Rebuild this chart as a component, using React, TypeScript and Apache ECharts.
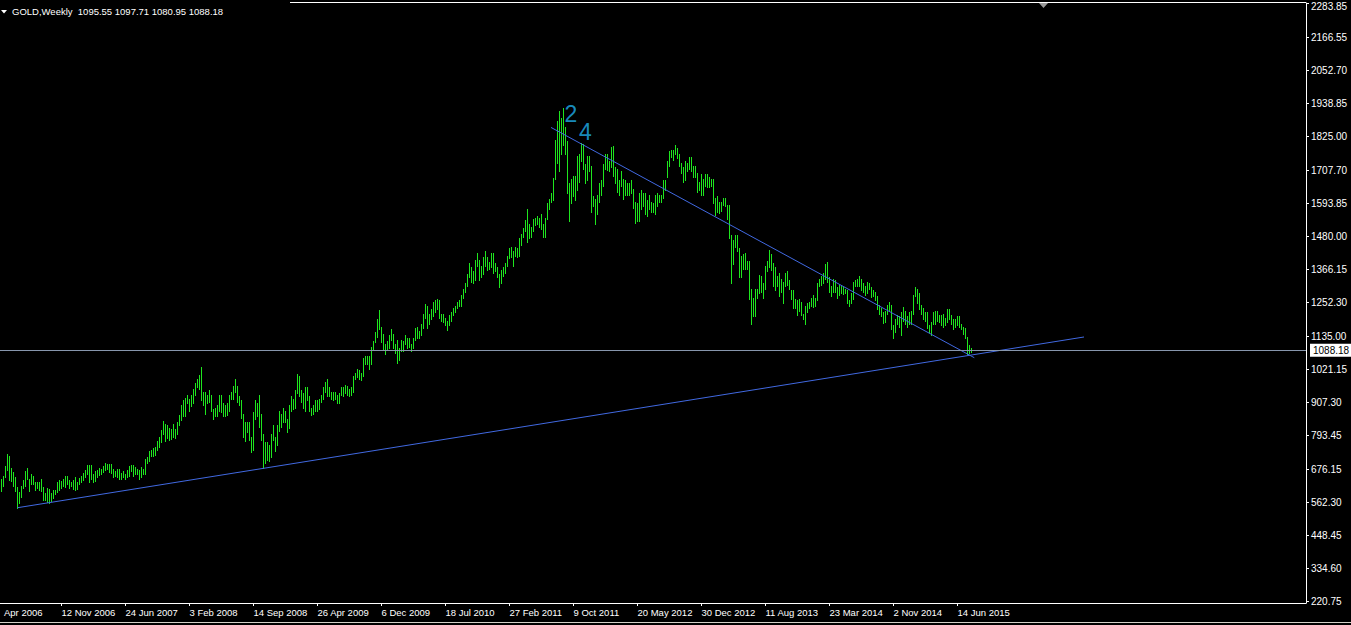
import React, { useEffect, useRef } from "react";
import * as echarts from "echarts";

// ---- chart identity ----
const SYMBOL = "GOLD";
const PERIOD = "Weekly";
const LAST_BAR = { open: 1095.55, high: 1097.71, low: 1080.95, close: 1088.18 };
const FIRST_WEEK = "2006-04-16"; // week index 0

// ---- weekly highs (week index 0 = 16 Apr 2006, last = 2 Aug 2015) ----
const weeklyHigh = [
  // 2006 (from 16 Apr)
  645, 655, 688, 730, 725, 681, 667, 650, 617, 600, 620, 640, 670, 681, 643, 660, 656, 635, 635, 633,
  643, 617, 596, 613, 611, 596, 606, 606, 633, 640, 637, 643, 653, 653, 640, 635, 640, 650,
  // 2007
  633, 647, 656, 665, 674, 691, 691, 691, 660, 670, 674, 681, 678, 688, 699, 697, 697, 695, 678, 670,
  678, 678, 665, 670, 663, 674, 688, 691, 691, 684, 678, 674, 684, 678, 712, 721, 740, 745, 751, 755,
  775, 790, 812, 845, 835, 830, 820, 815, 835, 815, 840, 865,
  // 2008
  898, 915, 925, 935, 920, 935, 955, 975, 990, 1002, 1032, 945, 945, 935, 950, 935, 885, 890, 900, 935,
  935, 905, 900, 905, 935, 945, 965, 988, 965, 930, 915, 870, 840, 840, 840, 790, 875, 915, 905, 935,
  870, 800, 770, 770, 760, 800, 830, 790, 830, 880, 870, 890,
  // 2009
  880, 850, 900, 930, 920, 950, 1007, 1000, 950, 940, 960, 960, 930, 890, 900, 915, 915, 920, 935, 960,
  980, 990, 960, 945, 945, 945, 935, 940, 960, 960, 970, 965, 955, 960, 1000, 1010, 1025, 1020, 1010, 1060,
  1070, 1070, 1070, 1100, 1120, 1150, 1195, 1226, 1170, 1145, 1110, 1120,
  // 2010
  1140, 1162, 1145, 1110, 1125, 1095, 1125, 1120, 1140, 1130, 1130, 1110, 1130, 1165, 1170, 1155, 1180, 1215, 1249, 1240,
  1215, 1230, 1255, 1262, 1265, 1262, 1215, 1215, 1200, 1190, 1210, 1220, 1235, 1240, 1255, 1260, 1280, 1300, 1320, 1350,
  1388, 1375, 1360, 1398, 1424, 1400, 1380, 1410, 1432, 1410, 1392, 1425,
  // 2011
  1425, 1390, 1375, 1350, 1365, 1375, 1390, 1415, 1440, 1445, 1430, 1445, 1440, 1475, 1490, 1510, 1537, 1575, 1525, 1515,
  1540, 1545, 1550, 1545, 1560, 1525, 1545, 1595, 1610, 1630, 1682, 1815, 1880, 1913, 1890, 1923, 1860, 1810, 1665, 1680,
  1690, 1690, 1760, 1765, 1803, 1800, 1730, 1760, 1760, 1725, 1620, 1610,
  // 2012
  1625, 1665, 1675, 1730, 1764, 1765, 1740, 1790, 1792, 1720, 1715, 1675, 1705, 1680, 1675, 1665, 1665, 1675, 1645, 1600,
  1595, 1630, 1640, 1630, 1630, 1605, 1625, 1600, 1595, 1625, 1630, 1625, 1625, 1675, 1675, 1740, 1775, 1780, 1780, 1796,
  1785, 1765, 1735, 1720, 1740, 1735, 1755, 1755, 1725, 1725, 1700, 1670,
  // 2013 (from 30 Dec 2012)
  1695, 1680, 1695, 1695, 1685, 1680, 1680, 1615, 1620, 1600, 1600, 1615, 1615, 1590, 1590, 1485, 1470, 1487, 1485, 1440,
  1415, 1420, 1425, 1395, 1395, 1300, 1270, 1300, 1300, 1348, 1345, 1320, 1380, 1395, 1433, 1420, 1390, 1375, 1345, 1355,
  1335, 1325, 1355, 1362, 1330, 1295, 1295, 1265, 1260, 1265, 1255, 1215, 1240,
  // 2014
  1250, 1255, 1270, 1280, 1270, 1320, 1335, 1345, 1355, 1385, 1392, 1340, 1310, 1335, 1330, 1305, 1315, 1315, 1305, 1300,
  1295, 1260, 1285, 1325, 1330, 1335, 1345, 1335, 1320, 1310, 1325, 1320, 1305, 1295, 1290, 1275, 1245, 1235, 1220, 1225,
  1245, 1255, 1245, 1175, 1195, 1210, 1205, 1220, 1238, 1225, 1205, 1220,
  // 2015
  1225, 1280, 1307, 1300, 1285, 1245, 1235, 1220, 1220, 1175, 1185, 1220, 1225, 1225, 1210, 1210, 1215, 1200, 1230, 1232,
  1210, 1195, 1195, 1205, 1205, 1180, 1170, 1165, 1135, 1105, 1097.71,
];

// ---- weekly lows ----
const weeklyLow = [
  // 2006
  603, 621, 652, 675, 640, 638, 620, 604, 543, 561, 582, 612, 620, 643, 604, 628, 628, 607, 614, 607,
  604, 572, 572, 565, 560, 569, 577, 592, 599, 606, 614, 620, 617, 626, 614, 621, 611, 606,
  // 2007
  610, 626, 633, 640, 650, 660, 633, 643, 633, 638, 652, 658, 660, 669, 674, 680, 669, 665, 651, 656,
  650, 643, 643, 651, 643, 650, 656, 671, 656, 660, 663, 643, 650, 660, 663, 700, 705, 722, 725, 728,
  745, 755, 770, 800, 775, 785, 777, 783, 790, 785, 800, 832,
  // 2008
  848, 860, 860, 905, 880, 895, 905, 935, 960, 955, 915, 900, 870, 905, 910, 880, 850, 860, 860, 880,
  875, 860, 860, 865, 880, 920, 920, 945, 910, 900, 855, 790, 775, 805, 780, 736, 745, 850, 860, 825,
  780, 681, 700, 710, 705, 720, 780, 740, 760, 810, 825, 840,
  // 2009
  840, 805, 820, 880, 885, 890, 940, 930, 910, 890, 880, 915, 880, 865, 870, 880, 880, 885, 910, 920,
  945, 930, 930, 920, 915, 920, 905, 905, 935, 930, 940, 935, 930, 935, 945, 990, 995, 990, 985, 1000,
  1040, 1040, 1025, 1040, 1090, 1115, 1135, 1160, 1118, 1090, 1075, 1090,
  // 2010
  1095, 1125, 1095, 1080, 1045, 1055, 1085, 1085, 1110, 1095, 1100, 1085, 1095, 1125, 1132, 1130, 1140, 1165, 1200, 1165,
  1180, 1195, 1205, 1220, 1230, 1200, 1190, 1185, 1175, 1157, 1175, 1190, 1210, 1220, 1235, 1240, 1240, 1270, 1290, 1310,
  1340, 1325, 1320, 1330, 1380, 1330, 1340, 1350, 1380, 1365, 1368, 1375,
  // 2011
  1355, 1360, 1340, 1308, 1320, 1345, 1355, 1380, 1405, 1410, 1380, 1415, 1410, 1415, 1450, 1480, 1500, 1462, 1475, 1480,
  1500, 1520, 1525, 1515, 1505, 1478, 1480, 1540, 1575, 1600, 1605, 1680, 1735, 1705, 1765, 1795, 1765, 1630, 1535, 1595,
  1620, 1605, 1640, 1670, 1740, 1715, 1665, 1675, 1705, 1565, 1585, 1523,
  // 2012
  1560, 1600, 1625, 1655, 1715, 1710, 1705, 1720, 1690, 1665, 1635, 1625, 1655, 1610, 1625, 1625, 1625, 1630, 1580, 1527,
  1535, 1533, 1575, 1585, 1560, 1550, 1575, 1565, 1565, 1560, 1585, 1600, 1598, 1612, 1640, 1685, 1725, 1755, 1745, 1765,
  1750, 1725, 1700, 1670, 1675, 1705, 1715, 1705, 1685, 1685, 1635, 1640,
  // 2013
  1625, 1625, 1655, 1650, 1650, 1655, 1595, 1555, 1565, 1563, 1570, 1590, 1585, 1540, 1475, 1321, 1385, 1445, 1430, 1340,
  1340, 1370, 1370, 1370, 1265, 1180, 1205, 1208, 1270, 1285, 1290, 1270, 1300, 1360, 1375, 1365, 1310, 1295, 1310, 1277,
  1290, 1250, 1310, 1315, 1300, 1265, 1235, 1235, 1210, 1225, 1210, 1195, 1180,
  // 2014
  1220, 1235, 1240, 1238, 1240, 1260, 1310, 1315, 1320, 1335, 1325, 1290, 1277, 1290, 1290, 1268, 1280, 1285, 1282, 1285,
  1250, 1240, 1250, 1265, 1310, 1310, 1310, 1295, 1290, 1280, 1285, 1300, 1272, 1275, 1260, 1230, 1215, 1205, 1183, 1185,
  1215, 1225, 1160, 1131, 1150, 1180, 1170, 1142, 1190, 1180, 1170, 1180,
  // 2015
  1180, 1215, 1275, 1250, 1230, 1215, 1195, 1190, 1165, 1150, 1142, 1180, 1180, 1190, 1185, 1175, 1170, 1175, 1185, 1195,
  1180, 1162, 1170, 1175, 1170, 1162, 1145, 1130, 1077, 1078, 1080.95,
];

// ---- axis ticks ----
const priceTicks = [
  2283.85, 2166.55, 2052.7, 1938.85, 1825.0, 1707.7, 1593.85, 1480.0, 1366.15, 1252.3,
  1135.0, 1021.15, 907.3, 793.45, 676.15, 562.3, 448.45, 334.6, 220.75,
];
const timeTickWeeks = [30, 62, 94, 126, 158, 190, 222, 254, 286, 318, 350, 382, 414, 446, 478];
const timeTickLabels = [
  "12 Nov 2006", "24 Jun 2007", "3 Feb 2008", "14 Sep 2008", "26 Apr 2009", "6 Dec 2009",
  "18 Jul 2010", "27 Feb 2011", "9 Oct 2011", "20 May 2012", "30 Dec 2012", "11 Aug 2013",
  "23 Mar 2014", "2 Nov 2014", "14 Jun 2015",
];
const clippedFirstLabel = "Apr 2006";

// ---- drawn objects (week index, price) ----
const supportLine = [[8, 545], [541.25, 1134]];
const resistanceLine = [[274.75, 1857], [486.4, 1062.5]];
const waveLabels = [
  { text: "2", week: 284.75, price: 1901.6 },
  { text: "4", week: 292, price: 1841.2 },
];

// ---- view ----
const Y_MIN = 216.26;
const Y_MAX = 2286.26;
const X_MIN = -0.75;
const X_MAX = 652.25;

const BAR_COLOR = "#1ee61e";
const TREND_COLOR = "#4169e1";
const BID_COLOR = "#8796ad";
const WAVE_COLOR = "#1fb0ee";
const FONT = '"Liberation Sans", Arial, sans-serif';

export default function App() {
  const ref = useRef<HTMLDivElement>(null);

  useEffect(() => {
    if (!ref.current) return;
    const chart = echarts.init(ref.current, null, { renderer: "svg" });

    const bars = weeklyHigh.map((h, i) => [i, h, weeklyLow[i]]);
    const header = `${SYMBOL},${PERIOD}  ${LAST_BAR.open.toFixed(2)} ${LAST_BAR.high.toFixed(2)} ${LAST_BAR.low.toFixed(2)} ${LAST_BAR.close.toFixed(2)}`;
    const [topTick, ...innerTicks] = priceTicks;

    chart.setOption({
      animation: false,
      backgroundColor: "#000",
      grid: { left: 0, right: 45, top: 3, bottom: 22, outerBoundsMode: "none", containLabel: false },
      xAxis: {
        type: "value",
        min: X_MIN,
        max: X_MAX,
        position: "bottom",
        axisLine: { show: true, onZero: false, lineStyle: { color: "#fff", width: 1 } },
        axisTick: { show: true, customValues: timeTickWeeks, length: 3, lineStyle: { color: "#fff" } },
        axisLabel: {
          show: true,
          customValues: timeTickWeeks,
          formatter: (v: number) => {
            const k = timeTickWeeks.indexOf(Math.round(v));
            return k >= 0 ? timeTickLabels[k] : "";
          },
          color: "#fff",
          fontSize: 9.5,
          fontFamily: FONT,
          align: "left",
          margin: 4,
        },
        splitLine: { show: false },
      },
      yAxis: {
        type: "value",
        min: Y_MIN,
        max: Y_MAX,
        position: "right",
        axisLine: { show: true, onZero: false, lineStyle: { color: "#fff", width: 1 } },
        axisTick: { show: true, customValues: priceTicks, length: 3, lineStyle: { color: "#fff" } },
        axisLabel: {
          show: true,
          customValues: innerTicks,
          formatter: (v: number) => v.toFixed(2),
          color: "#fff",
          fontSize: 10,
          fontFamily: FONT,
          margin: 5,
        },
        splitLine: { show: false },
      },
      series: [
        {
          type: "custom",
          data: bars,
          encode: { x: 0, y: [1, 2] },
          silent: true,
          renderItem: (params: any, api: any) => {
            const w = api.value(0);
            const top = api.coord([w, api.value(1)]);
            const bot = api.coord([w, api.value(2)]);
            const x = Math.floor(top[0]) + 0.5;
            return {
              type: "line",
              shape: { x1: x, y1: Math.round(top[1]), x2: x, y2: Math.round(bot[1]) + 1 },
              style: { stroke: BAR_COLOR, lineWidth: 1 },
            };
          },
          z: 2,
        },
        {
          type: "line",
          data: supportLine,
          symbol: "none",
          silent: true,
          lineStyle: { color: TREND_COLOR, width: 1 },
          z: 3,
          markLine: {
            silent: true,
            symbol: ["none", "none"],
            data: [{ yAxis: LAST_BAR.close }],
            lineStyle: { color: BID_COLOR, width: 1, type: "solid" },
            label: {
              show: true,
              position: "end",
              formatter: LAST_BAR.close.toFixed(2),
              color: "#000",
              backgroundColor: "#fff",
              padding: [2, 3, 1, 3],
              fontSize: 10,
              fontFamily: FONT,
              distance: 4,
            },
            emphasis: { disabled: true },
          },
        },
        {
          type: "line",
          data: resistanceLine,
          symbol: "none",
          silent: true,
          lineStyle: { color: TREND_COLOR, width: 1 },
          z: 3,
        },
        {
          type: "scatter",
          silent: true,
          symbolSize: 0,
          itemStyle: { color: "transparent" },
          data: waveLabels.map((w) => ({ value: [w.week, w.price], name: w.text })),
          label: {
            show: true,
            position: "inside",
            formatter: "{b}",
            color: WAVE_COLOR,
            fontSize: 23,
            fontFamily: FONT,
          },
          z: 4,
        },
      ],
    });

    // top price label: kept inside the canvas, next to its tick
    const topY = chart.convertToPixel({ yAxisIndex: 0 }, topTick) as number;
    const axisX = chart.convertToPixel({ xAxisIndex: 0 }, X_MAX) as number;

    chart.setOption({
      graphic: [
        { type: "line", shape: { x1: 290, y1: 2.5, x2: axisX, y2: 2.5 }, style: { stroke: "#fff", lineWidth: 1 }, silent: true },
        { type: "polygon", shape: { points: [[1, 10], [7, 10], [4, 13.5]] }, style: { fill: "#fff" }, silent: true },
        { type: "text", left: 12, top: 6, style: { text: header, fill: "#fff", font: `9.5px ${FONT}` }, silent: true },
        { type: "polygon", shape: { points: [[1039, 3], [1048, 3], [1043.5, 8]] }, style: { fill: "#9a9a9a" }, silent: true },
        { type: "text", left: 4, top: 607, style: { text: clippedFirstLabel, fill: "#fff", font: `9.5px ${FONT}` }, silent: true },
        {
          type: "text",
          left: axisX + 5,
          top: Math.max(topY - 4, 1),
          style: { text: topTick.toFixed(2), fill: "#fff", font: `10px ${FONT}` },
          silent: true,
        },
        { type: "line", shape: { x1: 0, y1: 622.5, x2: 1351, y2: 622.5 }, style: { stroke: "#d4d0c8", lineWidth: 1 }, silent: true },
      ],
    });

    return () => chart.dispose();
  }, []);

  return (
    <div
      ref={ref}
      data-first-week={FIRST_WEEK}
      style={{ position: "fixed", left: 0, top: 0, width: 1351, height: 625, background: "#000" }}
    />
  );
}
